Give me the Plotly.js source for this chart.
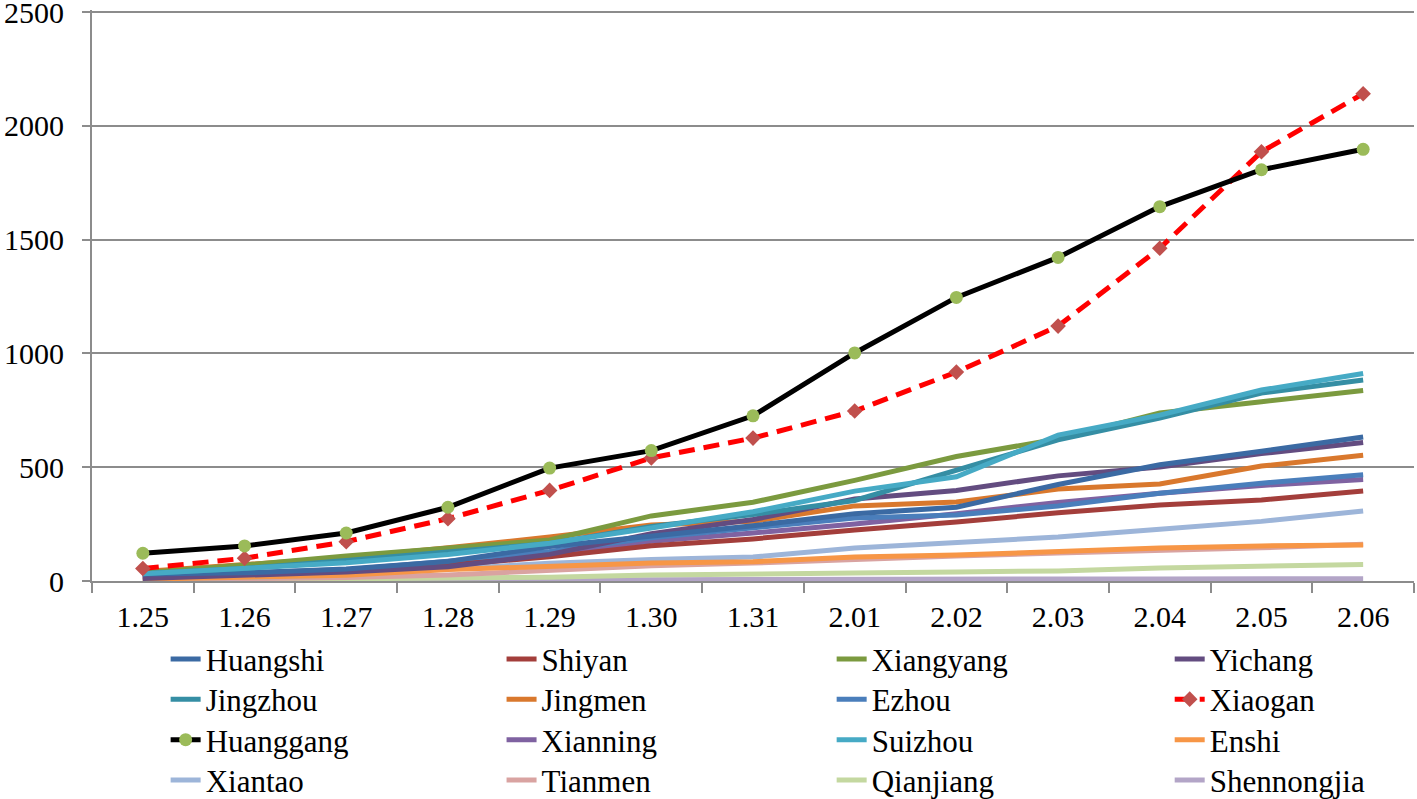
<!DOCTYPE html>
<html>
<head>
<meta charset="utf-8">
<script src="https://cdn.plot.ly/plotly-3.0.1.min.js"></script>
<style>html,body{margin:0;padding:0;background:#fff;}#chart{width:1417px;height:799px;}</style>
</head>
<body>
<div id="chart"></div>
<script>
const dates = ["1.25","1.26","1.27","1.28","1.29","1.30","1.31","2.01","2.02","2.03","2.04","2.05","2.06"];

const Huangshi   = [31, 36, 53, 86, 152, 198, 243, 296, 324, 424, 511, 570, 633];
const Shiyan     = [15, 30, 45, 70, 106, 155, 185, 224, 259, 300, 334, 356, 395];
const Xiangyang  = [36, 70, 110, 145, 180, 286, 346, 442, 547, 624, 738, 788, 837];
const Yichang    = [11, 25, 40, 63, 117, 208, 270, 360, 398, 462, 501, 560, 609];
const Jingzhou   = [33, 55, 90, 125, 165, 240, 292, 354, 488, 620, 716, 826, 883];
const Jingmen    = [42, 70, 102, 146, 193, 246, 262, 330, 347, 404, 426, 505, 553];
const Ezhou      = [20, 35, 50, 87, 130, 190, 233, 277, 290, 330, 386, 430, 467];
const Xiaogan    = [55, 100, 173, 274, 398, 541, 628, 747, 918, 1120, 1462, 1886, 2141];
const Huanggang  = [122, 154, 211, 324, 496, 573, 726, 1002, 1246, 1422, 1645, 1807, 1897];
const Xianning   = [18, 30, 48, 80, 120, 175, 211, 250, 296, 345, 386, 420, 446];
const Suizhou    = [32, 55, 80, 116, 166, 233, 304, 395, 458, 641, 729, 839, 912];
const Enshi      = [8, 15, 25, 50, 66, 79, 85, 105, 114, 132, 145, 154, 158];
const Xiantao    = [10, 15, 28, 52, 78, 95, 105, 145, 168, 193, 227, 262, 308];
const Tianmen    = [5, 10, 15, 26, 45, 67, 79, 97, 110, 123, 134, 146, 162];
const Qianjiang  = [2, 5, 8, 12, 17, 26, 33, 35, 40, 44, 57, 66, 73];
const Shennongjia= [1, 1, 2, 3, 4, 5, 7, 9, 9, 9, 9, 10, 10];
const yTicks     = [0, 500, 1000, 1500, 2000, 2500];

const seriesNames = ["Huangshi","Shiyan","Xiangyang","Yichang","Jingzhou","Jingmen","Ezhou","Xiaogan",
                     "Huanggang","Xianning","Suizhou","Enshi","Xiantao","Tianmen","Qianjiang","Shennongjia"];
const seriesData = [Huangshi,Shiyan,Xiangyang,Yichang,Jingzhou,Jingmen,Ezhou,Xiaogan,
                    Huanggang,Xianning,Suizhou,Enshi,Xiantao,Tianmen,Qianjiang,Shennongjia];
const colors = ["#3B6AA3","#A33E3B","#7B9A3F","#634C80","#358EA4","#D9782D","#4A7EBB","#FF0000",
                "#000000","#7F62A1","#46AAC5","#F79646","#9DB5D9","#D9A3A1","#C4D8A0","#B3A5C7"];

const traces = seriesNames.map((n, i) => {
  const t = {x: dates, y: seriesData[i], name: n, type: "scatter", mode: "lines",
             legend: i === 0 ? "legend" : "legend" + (i + 1),
             line: {color: colors[i], width: 5}};
  if (n === "Xiaogan") {
    t.mode = "lines+markers";
    t.line = {color: "#FF0000", width: 5, dash: "16px,9px"};
    t.marker = {symbol: "diamond", size: 12, color: "#C0504D"};
  }
  if (n === "Huanggang") {
    t.mode = "lines+markers";
    t.line = {color: "#000000", width: 5};
    t.marker = {symbol: "circle", size: 13, color: "#9BBB59"};
  }
  return t;
});
// draw order: lower lines first, highlighted ones on top
const order = [15,14,13,12,11,9,6,1,5,3,0,2,4,10,7,8];
const ordered = order.map(i => traces[i]);

const layout = {
  width: 1417, height: 799,
  margin: {l: 92, r: 3, t: 10, b: 218, autoexpand: false},
  paper_bgcolor: "#fff", plot_bgcolor: "#fff",
  font: {family: "Liberation Serif, Times New Roman, serif", size: 30, color: "#000"},
  showlegend: true,
  xaxis: {type: "category", range: [-0.5, 12.5], tickson: "boundaries",
          ticks: "outside", ticklen: 10, tickwidth: 2, tickcolor: "#8c8c8c",
          showline: true, linecolor: "#8c8c8c", linewidth: 2, showgrid: false,
          ticklabelstandoff: 8,
          tickfont: {size: 30, family: "Liberation Serif, serif"}, zeroline: false},
  yaxis: {range: [0, 2509], tickmode: "array", tickvals: yTicks, ticktext: yTicks.map(String),
          ticks: "outside", ticklen: 8, tickwidth: 2, ticklabeloverflow: "allow",
          tickcolor: "#8c8c8c", showline: true, linecolor: "#8c8c8c", linewidth: 2,
          gridcolor: "#8c8c8c", gridwidth: 2, zeroline: false, ticklabelstandoff: 12,
          tickfont: {size: 30, family: "Liberation Serif, serif"}}
};

// 4x4 legend grid, one legend per entry, filled row by row
const colX = [0.0557, 0.3098, 0.5595, 0.8152];
const rowY = [-0.1370, -0.2075, -0.2785, -0.3490];
for (let i = 0; i < 16; i++) {
  const key = i === 0 ? "legend" : "legend" + (i + 1);
  layout[key] = {x: colX[i % 4], xanchor: "left", y: rowY[Math.floor(i / 4)], yanchor: "middle",
                 bgcolor: "rgba(0,0,0,0)", borderwidth: 0,
                 font: {size: 31, family: "Liberation Serif, serif", color: "#000"}};
}

Plotly.newPlot("chart", ordered, layout, {displayModeBar: false});
</script>
</body>
</html>
